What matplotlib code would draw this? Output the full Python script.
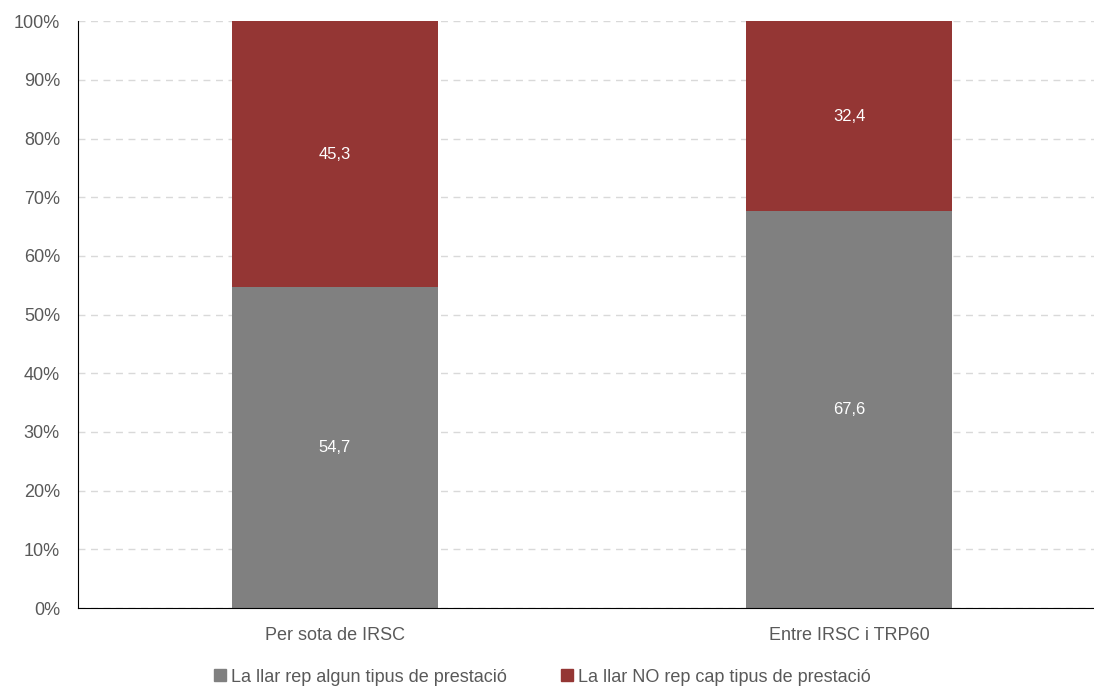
import matplotlib.pyplot as plt
from matplotlib.ticker import PercentFormatter
from matplotlib.patches import Patch

plt.rcParams['font.family'] = ['Liberation Sans', 'DejaVu Sans']

categories = ["Per sota de IRSC", "Entre IRSC i TRP60"]
rep_alguna = [54.7, 67.6]
no_rep = [45.3, 32.4]
series_names = ["La llar rep algun tipus de prestació", "La llar NO rep cap tipus de prestació"]
colors = ["#808080", "#943634"]

fig = plt.figure(figsize=(10.94, 6.86), dpi=100)
ax = fig.add_axes([0.0713, 0.1137, 0.9397, 0.8553])

x = range(len(categories))
bars1 = ax.bar(x, rep_alguna, width=0.4, color=colors[0], zorder=2)
bars2 = ax.bar(x, no_rep, width=0.4, bottom=rep_alguna, color=colors[1], zorder=2)

# etiquetes de valor al centre de cada tram
for bars, vals, bottoms in [(bars1, rep_alguna, [0, 0]), (bars2, no_rep, rep_alguna)]:
    for b, v, bot in zip(bars, vals, bottoms):
        ax.text(b.get_x() + b.get_width() / 2, bot + v / 2, f"{v:.1f}".replace(".", ","),
                ha="center", va="center", color="white", fontsize=12)

ax.set_xlim(-0.5, 1.5)
ax.set_ylim(0, 100)
ax.set_yticks(range(0, 101, 10))
ax.yaxis.set_major_formatter(PercentFormatter(decimals=0))
ax.set_xticks(list(x))
ax.set_xticklabels(categories)
ax.tick_params(axis="both", length=0, labelsize=13, colors="#595959")
ax.tick_params(axis="x", pad=14)
ax.tick_params(axis="y", pad=13)

ax.grid(axis="y", color="#d9d9d9", linestyle=(0, (5, 4)), linewidth=1, zorder=0)
for s in ["top", "right"]:
    ax.spines[s].set_visible(False)
ax.spines["left"].set_color("black")
ax.spines["bottom"].set_color("black")
ax.spines["bottom"].set_zorder(3)

handles = [Patch(color=c) for c in colors]
fig.legend(handles, series_names, loc="lower center", bbox_to_anchor=(0.496, -0.023), ncol=2,
           frameon=False, fontsize=13, handlelength=0.65, handleheight=0.65,
           handletextpad=0.3, columnspacing=3.0, labelcolor="#595959")

fig.savefig("out.png", dpi=100)
